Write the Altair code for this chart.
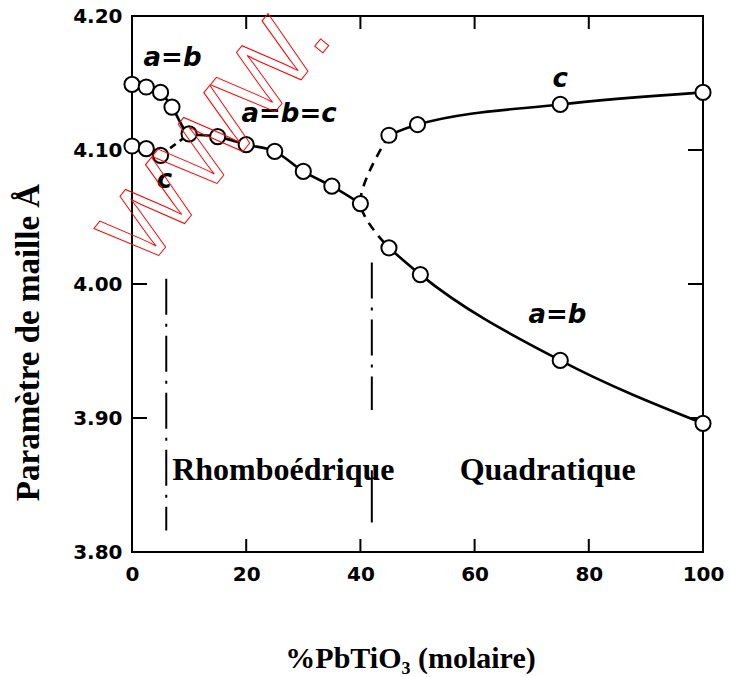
import altair as alt
import pandas as pd

# ---- data ----
# rhombohedral a=b branch (becoming a=b=c beyond ~10 %)
rh_ab_x = [0, 2.5, 5, 7, 10, 15, 20, 25, 30, 35, 40]
rh_ab_y = [4.149, 4.147, 4.143, 4.132, 4.112, 4.110, 4.104, 4.099, 4.084, 4.073, 4.060]
# rhombohedral c branch
rh_c_x = [0, 2.5, 5]
rh_c_y = [4.103, 4.101, 4.096]
rh_c_dash_x = [5, 10]
rh_c_dash_y = [4.096, 4.112]
# tetragonal branches
tet_c_x = [45, 50, 75, 100]
tet_c_y = [4.111, 4.119, 4.134, 4.143]
tet_a_x = [45, 50.5, 75, 100]
tet_a_y = [4.027, 4.007, 3.943, 3.896]
# dashed transition curve c(45) -> (40) -> a(45)
trans_x = [45, 40, 45]
trans_y = [4.111, 4.060, 4.027]

# phase boundaries
bound_x = [6, 42]
bound_top = [4.004, 4.016]
bound_bot = [3.816, 3.906]
bound_solid_x = [42]
bound_solid_top = [3.861]
bound_solid_bot = [3.822]

# ticks
x_ticks = [0, 20, 40, 60, 80, 100]
y_ticks = [3.80, 3.90, 4.00, 4.10, 4.20]
x_inner_ticks = [20, 40, 60, 80]
y_inner_ticks = [3.90, 4.00, 4.10]

# annotations
ann_text = ["a=b", "a=b=c", "c", "c", "a=b"]
ann_x = [7.1, 27.5, 5.7, 75.0, 74.5]
ann_y = [4.163, 4.121, 4.072, 4.147, 3.971]
phase_text = ["Rhomboédrique", "Quadratique"]
phase_x = [26.5, 72.8]
phase_y = [3.854, 3.854]
wm_text = ["WWW."]
wm_x = [15.0]
wm_y = [4.110]

W, H = 571, 536

solid = pd.DataFrame({
    "x": rh_ab_x + rh_c_x + tet_c_x + tet_a_x,
    "y": rh_ab_y + rh_c_y + tet_c_y + tet_a_y,
    "s": ["rab"] * len(rh_ab_x) + ["rc"] * len(rh_c_x) + ["tc"] * len(tet_c_x) + ["ta"] * len(tet_a_x),
})
dash_c = pd.DataFrame({"x": rh_c_dash_x, "y": rh_c_dash_y})
trans = pd.DataFrame({"x": trans_x, "y": trans_y, "o": list(range(len(trans_x)))})
bounds = pd.DataFrame({"x": bound_x, "y": bound_top, "y2": bound_bot})
bounds_s = pd.DataFrame({"x": bound_solid_x, "y": bound_solid_top, "y2": bound_solid_bot})
xt = pd.DataFrame({"x": x_inner_ticks})
yt = pd.DataFrame({"y": y_inner_ticks})
ann = pd.DataFrame({"t": ann_text, "x": ann_x, "y": ann_y})
phase = pd.DataFrame({"t": phase_text, "x": phase_x, "y": phase_y})
wm = pd.DataFrame({"t": wm_text, "x": wm_x, "y": wm_y})

xscale = alt.Scale(domain=[0, 100], nice=False, zero=False)
yscale = alt.Scale(domain=[3.80, 4.20], nice=False, zero=False)

x_axis = alt.Axis(
    values=x_ticks, format="d", grid=False, domain=False, ticks=False, tickSize=0,
    labelFont="DejaVu Sans", labelFontWeight="bold", labelFontSize=20, labelColor="black",
    labelPadding=12, labelFlush=False,
    title="%PbTiO₃ (molaire)", titleFont="Liberation Serif", titleFontWeight="bold",
    titleFontSize=30, titleColor="black", titleX=278, titleY=106,
    titleAlign="center", titleBaseline="middle",
)
y_axis = alt.Axis(
    values=y_ticks, format=".2f", grid=False, domain=False, ticks=False, tickSize=0,
    labelFont="DejaVu Sans", labelFontWeight="bold", labelFontSize=20, labelColor="black",
    labelPadding=10, labelFlush=False,
    title="Paramètre  de maille Å", titleFont="Liberation Serif", titleFontWeight="bold",
    titleFontSize=33, titleColor="black", titleX=-104, titleY=326, titleAngle=270,
    titleAlign="center", titleBaseline="middle",
)


def X(f="x"):
    return alt.X(f, type="quantitative", scale=xscale, axis=x_axis)


def Y(f="y"):
    return alt.Y(f, type="quantitative", scale=yscale, axis=y_axis)


lines = alt.Chart(solid).mark_line(interpolate="monotone", color="black", strokeWidth=2.6).encode(
    x=X(), y=Y(), detail="s:N")
dashed = alt.Chart(dash_c).mark_line(color="black", strokeWidth=2.6, strokeDash=[7, 5]).encode(
    x=X(), y=Y())
transition = alt.Chart(trans).mark_line(interpolate="catmull-rom", color="black", strokeWidth=2.6,
                                        strokeDash=[9, 7]).encode(x=X(), y=Y(), order="o:Q")
brules = alt.Chart(bounds).mark_rule(color="black", strokeWidth=2, strokeDash=[36, 9, 3, 9]).encode(
    x=X(), y=Y(), y2=alt.Y2("y2"))
brules_s = alt.Chart(bounds_s).mark_rule(color="black", strokeWidth=2).encode(
    x=X(), y=Y(), y2=alt.Y2("y2"))

tick_top = alt.Chart(xt).mark_rule(color="black", strokeWidth=2).encode(
    x=X(), y=alt.value(0), y2=alt.value(13))
tick_bot = alt.Chart(xt).mark_rule(color="black", strokeWidth=2).encode(
    x=X(), y=alt.value(H), y2=alt.value(H - 13))
tick_left = alt.Chart(yt).mark_rule(color="black", strokeWidth=2).encode(
    y=Y(), x=alt.value(0), x2=alt.value(15))
tick_right = alt.Chart(yt).mark_rule(color="black", strokeWidth=2).encode(
    y=Y(), x=alt.value(W), x2=alt.value(W - 15))

points = alt.Chart(solid).mark_circle(fill="white", stroke="black", strokeWidth=2, size=230,
                                      opacity=1, fillOpacity=1).encode(x=X(), y=Y())

ann_txt = alt.Chart(ann).mark_text(font="DejaVu Sans", fontWeight="bold", fontStyle="italic",
                                   fontSize=26, color="black", align="center",
                                   baseline="alphabetic").encode(x=X(), y=Y(), text="t:N")
phase_txt = alt.Chart(phase).mark_text(font="Liberation Serif", fontWeight="bold", fontSize=32,
                                       color="black", align="center",
                                       baseline="alphabetic").encode(x=X(), y=Y(), text="t:N")
wm_txt = alt.Chart(wm).mark_text(font="Liberation Sans", fontSize=98, angle=309, fill="white",
                                 fillOpacity=0, stroke="#ff0000", strokeWidth=1,
                                 align="center", baseline="middle").encode(x=X(), y=Y(), text="t:N")

chart = alt.layer(
    brules, brules_s, tick_top, tick_bot, tick_left, tick_right,
    lines, dashed, transition, points, ann_txt, phase_txt, wm_txt,
).properties(
    width=W, height=H,
    autosize=alt.AutoSizeParams(type="none"),
    padding={"left": 132, "top": 16, "right": 28, "bottom": 125},
    background="white",
).configure_view(stroke="black", strokeWidth=2)

chart.save("out.html", embed_options={"renderer": "svg", "actions": False})
